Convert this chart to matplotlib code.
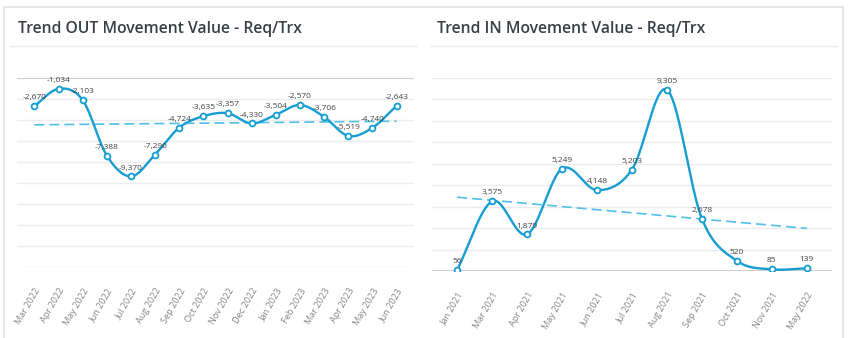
import numpy as np
import matplotlib.pyplot as plt
from matplotlib.lines import Line2D

# data
out_months = ["Mar 2022", "Apr 2022", "May 2022", "Jun 2022", "Jul 2022", "Aug 2022",
              "Sep 2022", "Oct 2022", "Nov 2022", "Dec 2022", "Jan 2023", "Feb 2023",
              "Mar 2023", "Apr 2023", "May 2023", "Jun 2023"]
out_values = [-2670, -1034, -2103, -7388, -9370, -7290, -4724, -3635,
              -3357, -4330, -3504, -2570, -3706, -5519, -4740, -2643]

in_months = ["Jan 2021", "Mar 2021", "Apr 2021", "May 2021", "Jun 2021", "Jul 2021",
             "Aug 2021", "Sep 2021", "Oct 2021", "Nov 2021", "May 2022"]
in_values = [56, 3575, 1879, 5249, 4148, 5203, 9305, 2678, 520, 85, 139]

LINE = "#169dd2"
TREND = "#52bfe6"
GRID = "#ececec"
ZERO = "#c8c8c8"
TITLE = "#3a3f46"

plt.rcParams['font.family'] = ['Open Sans', 'DejaVu Sans']


def smooth(y, n=20):
    # catmull-rom style cubic hermite through the points
    y = np.asarray(y, dtype=float)
    m = np.zeros_like(y)
    m[1:-1] = (y[2:] - y[:-2]) / 2
    m[0] = y[1] - y[0]
    m[-1] = y[-1] - y[-2]
    xs, ys = [], []
    t = np.linspace(0, 1, n, endpoint=False)
    for i in range(len(y) - 1):
        h00 = 2*t**3 - 3*t**2 + 1
        h10 = t**3 - 2*t**2 + t
        h01 = -2*t**3 + 3*t**2
        h11 = t**3 - t**2
        xs.append(i + t)
        ys.append(h00*y[i] + h10*m[i] + h01*y[i+1] + h11*m[i+1])
    xs.append([len(y) - 1])
    ys.append([y[-1]])
    return np.concatenate(xs), np.concatenate(ys)


def draw(ax, labels, values, ylim, step):
    x = np.arange(len(values))
    for v in np.arange(ylim[0], ylim[1] + step / 2, step):
        ax.axhline(v, color=GRID, lw=1, zorder=0)
    ax.axhline(0, color=ZERO, lw=1.2, zorder=0)

    # linear trend line
    k, b = np.polyfit(x, values, 1)
    ax.plot(x, k * x + b, color=TREND, lw=1.2, ls=(0, (6, 3)), zorder=2)

    sx, sy = smooth(values)
    ax.plot(sx, sy, color=LINE, lw=1.7, zorder=3)
    ax.plot(x, values, ls='none', marker='o', ms=4.2, mfc='white',
            mec=LINE, mew=1.3, zorder=4)

    for xi, v in zip(x, values):
        ax.annotate(f"{v:,}", (xi, v), xytext=(0, 3.5), textcoords='offset points',
                    ha='center', va='bottom', fontsize=6, color='#444444', zorder=5)

    ax.set_xlim(-0.72, len(values) - 0.28)
    ax.set_ylim(*ylim)
    ax.set_xticks(x)
    ax.set_xticklabels(labels, rotation=60, ha='right', rotation_mode='anchor',
                       fontsize=6.6, color='#858585')
    ax.tick_params(axis='x', length=0, pad=14)
    ax.set_yticks([])
    for s in ax.spines.values():
        s.set_visible(False)


fig = plt.figure(figsize=(8.5, 3.38), dpi=100)
fig.patch.set_facecolor('white')

# card outline and title separators
W, H = 850, 338
def fx(p): return p / W
def fy(p): return 1 - p / H
fig.add_artist(Line2D([fx(4), fx(843)], [fy(7), fy(7)], color='#e3e3e3', lw=1.2))
fig.add_artist(Line2D([fx(4), fx(4)], [fy(7), 0], color='#e3e3e3', lw=1.2))
fig.add_artist(Line2D([fx(843), fx(843)], [fy(7), 0], color='#e3e3e3', lw=1.2))
fig.add_artist(Line2D([fx(10), fx(417)], [fy(46), fy(46)], color='#e6ecf2', lw=1))
fig.add_artist(Line2D([fx(430), fx(837)], [fy(46), fy(46)], color='#e6ecf2', lw=1))

fig.text(fx(18), fy(29), "Trend OUT Movement Value - Req/Trx", fontsize=11.3,
         fontweight='semibold', color=TITLE, va='center', ha='left')
fig.text(fx(437), fy(29), "Trend IN Movement Value - Req/Trx", fontsize=11.3,
         fontweight='semibold', color=TITLE, va='center', ha='left')

ax1 = fig.add_axes([fx(17), fy(267), fx(414 - 17), (267 - 78) / H])
draw(ax1, out_months, out_values, (-18000, 0), 2000)

ax2 = fig.add_axes([fx(432), fy(271), fx(832 - 432), (271 - 78) / H])
draw(ax2, in_months, in_values, (0, 9900), 1100)

fig.savefig("out.png", dpi=100, facecolor='white')
